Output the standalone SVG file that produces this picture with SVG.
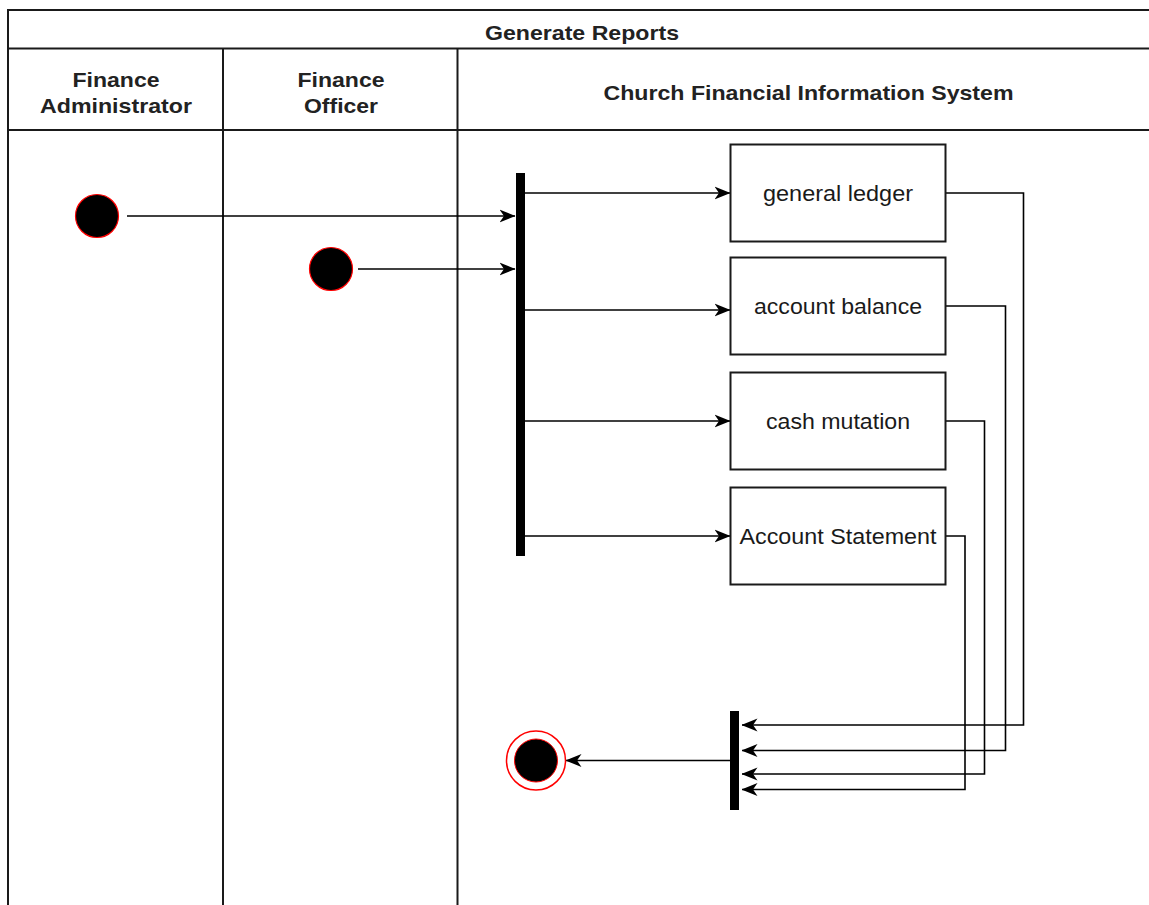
<svg xmlns="http://www.w3.org/2000/svg" width="1149" height="905" viewBox="0 0 1149 905">
<style>
.frame{fill:none;stroke:#1a1a1a;stroke-width:2}
.hdr{font-family:"Liberation Sans",Arial,sans-serif;font-weight:bold;font-size:21px;fill:#222;text-anchor:middle}
.lbl{font-family:"Liberation Sans",Arial,sans-serif;font-size:22px;fill:#1a1a1a;text-anchor:middle}
.box{fill:#fff;stroke:#1a1a1a;stroke-width:2}
.bar{fill:#000}
.edge{fill:none;stroke:#000;stroke-width:1.6}
.start{fill:#000;stroke:#ff0000;stroke-width:1.2}
</style>
<defs>
<marker id="arr" markerUnits="userSpaceOnUse" markerWidth="16" markerHeight="14" viewBox="0 0 16 14" refX="15.5" refY="7" orient="auto">
<path d="M0,0.5 L16,7 L0,13.5 L4.5,7 Z" fill="#000"/>
</marker>
</defs>
<rect width="1149" height="905" fill="#fff"/>
<g id="pool">
<path class="frame" d="M1160,10 H8 V905"/>
<path class="frame" d="M8,48.5 H1160"/>
<path class="frame" d="M8,130 H1160"/>
<path class="frame" d="M223,48.5 V905"/>
<path class="frame" d="M457.5,48.5 V905"/>
<text class="hdr" x="582" y="40" textLength="194" lengthAdjust="spacingAndGlyphs">Generate Reports</text>
</g>
<g id="lane-admin">
<text class="hdr" x="116" y="87" textLength="87" lengthAdjust="spacingAndGlyphs">Finance</text>
<text class="hdr" x="116" y="113" textLength="152" lengthAdjust="spacingAndGlyphs">Administrator</text>
</g>
<g id="lane-officer">
<text class="hdr" x="341" y="87" textLength="87" lengthAdjust="spacingAndGlyphs">Finance</text>
<text class="hdr" x="341" y="113" textLength="74" lengthAdjust="spacingAndGlyphs">Officer</text>
</g>
<g id="lane-system">
<text class="hdr" x="808.5" y="100" textLength="410" lengthAdjust="spacingAndGlyphs">Church Financial Information System</text>
</g>
<g id="connectors">
<path class="edge" d="M127,216 H515" marker-end="url(#arr)"/>
<path class="edge" d="M358,269 H515" marker-end="url(#arr)"/>
<path class="edge" d="M525,193 H730" marker-end="url(#arr)"/>
<path class="edge" d="M525,310 H730" marker-end="url(#arr)"/>
<path class="edge" d="M525,421 H730" marker-end="url(#arr)"/>
<path class="edge" d="M525,536 H730" marker-end="url(#arr)"/>
<path class="edge" d="M946,193 H1023.5 V725 H742" marker-end="url(#arr)"/>
<path class="edge" d="M946,306 H1005.5 V750.5 H742" marker-end="url(#arr)"/>
<path class="edge" d="M946,421 H984.5 V774 H742" marker-end="url(#arr)"/>
<path class="edge" d="M946,536 H965 V789.5 H742" marker-end="url(#arr)"/>
<path class="edge" d="M730,760.5 H566" marker-end="url(#arr)"/>
</g>
<g id="start-admin">
<circle class="start" cx="97" cy="216" r="21.5"/>
</g>
<g id="start-officer">
<circle class="start" cx="331" cy="269" r="21.5"/>
</g>
<g id="fork">
<rect class="bar" x="516" y="173" width="9" height="383"/>
</g>
<g id="general-ledger">
<rect class="box" x="730.5" y="144.5" width="215" height="97"/>
<text class="lbl" x="838" y="201" textLength="150" lengthAdjust="spacingAndGlyphs">general ledger</text>
</g>
<g id="account-balance">
<rect class="box" x="730.5" y="257.5" width="215" height="97"/>
<text class="lbl" x="838" y="314" textLength="168" lengthAdjust="spacingAndGlyphs">account balance</text>
</g>
<g id="cash-mutation">
<rect class="box" x="730.5" y="372.5" width="215" height="97"/>
<text class="lbl" x="838" y="429" textLength="144" lengthAdjust="spacingAndGlyphs">cash mutation</text>
</g>
<g id="account-statement">
<rect class="box" x="730.5" y="487.5" width="215" height="97"/>
<text class="lbl" x="838" y="544" textLength="197" lengthAdjust="spacingAndGlyphs">Account Statement</text>
</g>
<g id="join">
<rect class="bar" x="730" y="711" width="9" height="99"/>
</g>
<g id="end">
<circle cx="536" cy="760.5" r="29.5" fill="#fff" stroke="#ff0000" stroke-width="1.5"/>
<circle cx="536" cy="760.5" r="21.5" fill="#000" stroke="#ff0000" stroke-width="1"/>
</g>
</svg>
